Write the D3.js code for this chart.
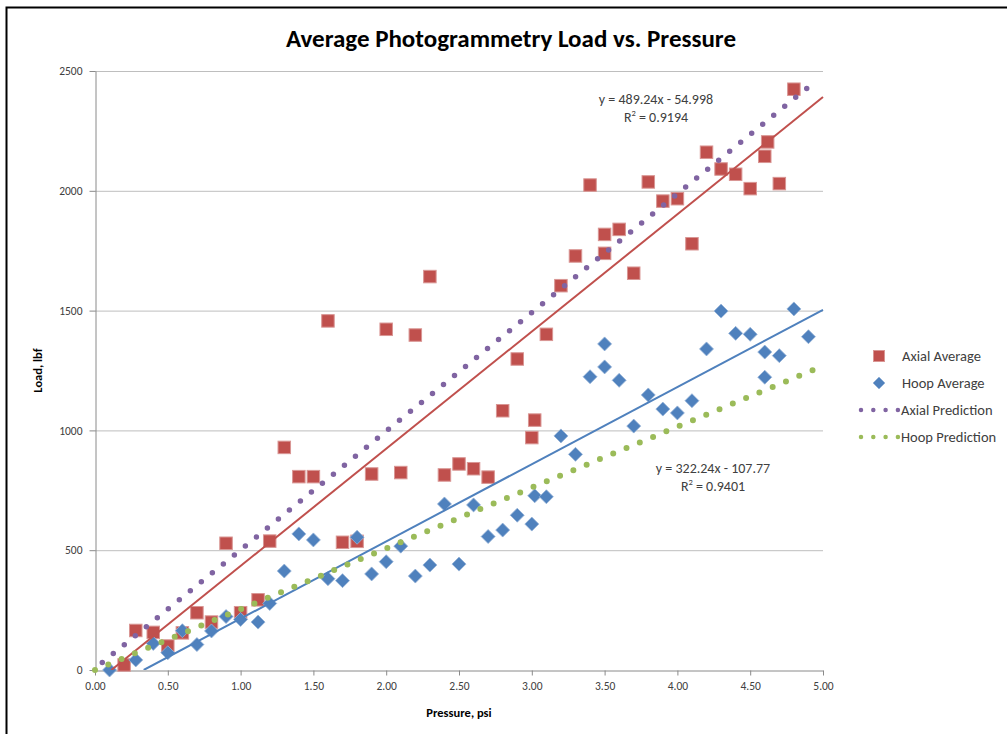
<!DOCTYPE html>
<html>
<head>
<meta charset="utf-8">
<script src="https://cdn.jsdelivr.net/npm/d3@7"></script>
<style>
  html, body { margin: 0; padding: 0; background: #fff; }
  text { font-family: Carlito, Lato, "Liberation Sans", sans-serif; }
</style>
</head>
<body>
<svg id="chart" width="1007" height="734"></svg>
<script>
// ---- Data ----
const title = "Average Photogrammetry Load vs. Pressure";
const xTitle = "Pressure, psi";
const yTitle = "Load, lbf";
const xTicks = [0, 0.5, 1, 1.5, 2, 2.5, 3, 3.5, 4, 4.5, 5];
const yTicks = [0, 500, 1000, 1500, 2000, 2500];

const axialX = [0.2, 0.28, 0.4, 0.5, 0.6, 0.7, 0.8, 0.9, 1.0, 1.12, 1.2, 1.3, 1.4, 1.5, 1.6, 1.7, 1.8, 1.9, 2.0, 2.1, 2.2, 2.3, 2.4, 2.5, 2.6, 2.7, 2.8, 2.9, 3.0, 3.02, 3.1, 3.2, 3.3, 3.4, 3.5, 3.5, 3.6, 3.7, 3.8, 3.9, 4.0, 4.1, 4.2, 4.3, 4.4, 4.5, 4.6, 4.62, 4.7, 4.8];
const axialY = [21, 165, 157, 100, 155, 239, 200, 529, 239, 293, 538, 929, 807, 807, 1457, 533, 537, 818, 1422, 824, 1398, 1642, 814, 860, 840, 805, 1082, 1298, 970, 1043, 1401, 1604, 1728, 2024, 1739, 1818, 1839, 1656, 2037, 1957, 1967, 1779, 2161, 2091, 2069, 2009, 2144, 2204, 2030, 2424];

const hoopX = [0.1, 0.28, 0.4, 0.5, 0.6, 0.7, 0.8, 0.9, 1.0, 1.12, 1.2, 1.3, 1.4, 1.5, 1.6, 1.7, 1.8, 1.9, 2.0, 2.1, 2.2, 2.3, 2.4, 2.5, 2.6, 2.7, 2.8, 2.9, 3.0, 3.02, 3.1, 3.2, 3.3, 3.4, 3.5, 3.5, 3.6, 3.7, 3.8, 3.9, 4.0, 4.1, 4.2, 4.3, 4.4, 4.5, 4.6, 4.6, 4.7, 4.8, 4.9];
const hoopY = [0, 42, 111, 72, 164, 106, 163, 223, 211, 200, 278, 413, 568, 543, 381, 373, 554, 401, 452, 517, 392, 438, 693, 442, 689, 557, 584, 646, 609, 727, 723, 977, 900, 1224, 1265, 1361, 1209, 1018, 1148, 1089, 1073, 1124, 1340, 1498, 1405, 1401, 1327, 1222, 1312, 1507, 1391];

const axialPredX = [0.05, 4.95];
const axialPredY = [31, 2458];
const hoopPredX = [0.0, 5.0];
const hoopPredY = [0, 1269];

const axialTrend = { slope: 489.24, intercept: -54.998, eq: "y = 489.24x - 54.998", r2: "0.9194" };
const hoopTrend = { slope: 322.24, intercept: -107.77, eq: "y = 322.24x - 107.77", r2: "0.9401" };

const legendLabels = ["Axial Average", "Hoop Average", "Axial Prediction", "Hoop Prediction"];

// ---- Styles ----
const C = { red: "#C0504D", blue: "#4F81BD", purple: "#8064A2", green: "#9BBB59", text: "#404040", grid: "#BEBEBE", axis: "#8A8A8A" };

const svg = d3.select("#chart");
svg.append("rect").attr("width", 1007).attr("height", 734).attr("fill", "#fff");
// outer chart border (cropped on the right and bottom)
svg.append("path").attr("d", "M6.5,740 V7.5 H1012").attr("fill", "none").attr("stroke", "#000").attr("stroke-width", 2);

const x = d3.scaleLinear().domain([0, 5]).range([95, 823]);
const y = d3.scaleLinear().domain([0, 2500]).range([670, 71]);

// gridlines
svg.append("g").selectAll("line").data(yTicks.filter(d => d > 0)).join("line")
  .attr("x1", x(0)).attr("x2", x(5)).attr("y1", d => y(d) + 0.5).attr("y2", d => y(d) + 0.5)
  .attr("stroke", C.grid).attr("stroke-width", 1);

// axes
const xAxis = d3.axisBottom(x).tickValues(xTicks).tickFormat(d3.format(".2f")).tickSizeInner(5).tickSizeOuter(0).tickPadding(6);
const gx = svg.append("g").attr("transform", `translate(0,${y(0) + 0.5})`).call(xAxis);
const yAxis = d3.axisLeft(y).tickValues(yTicks).tickFormat(d3.format("d")).tickSizeInner(6).tickSizeOuter(0).tickPadding(7);
const gy = svg.append("g").attr("transform", `translate(${x(0) + 0.5},0)`).call(yAxis);
[gx, gy].forEach(g => {
  g.select(".domain").attr("stroke", C.axis);
  g.selectAll(".tick line").attr("stroke", C.axis);
  g.selectAll(".tick text").attr("fill", C.text).attr("font-size", 11.5).style("font-family", "Carlito, Lato, sans-serif");
});

// clip for plot area
svg.append("clipPath").attr("id", "plotclip").append("rect")
  .attr("x", x(0)).attr("y", y(2500) - 10).attr("width", x(5) - x(0) + 6).attr("height", y(0) - y(2500) + 10);

const plot = svg.append("g");

// Axial Average squares
const sq = 12.5;
plot.append("g").selectAll("rect").data(axialX.map((d, i) => [d, axialY[i]])).join("rect")
  .attr("x", d => x(d[0]) - sq / 2).attr("y", d => y(d[1]) - sq / 2)
  .attr("width", sq).attr("height", sq)
  .attr("fill", C.red).attr("stroke", "#D99694").attr("stroke-width", 1);

// Hoop Average diamonds
const dm = 7;
const diamond = (cx, cy, r) => `M${cx},${cy - r}L${cx + r},${cy}L${cx},${cy + r}L${cx - r},${cy}Z`;
plot.append("g").selectAll("path").data(hoopX.map((d, i) => [d, hoopY[i]])).join("path")
  .attr("d", d => diamond(x(d[0]), y(d[1]), dm))
  .attr("fill", C.blue).attr("stroke", "#95B3D7").attr("stroke-width", 0.8);

// Trendlines
const trendG = plot.append("g").attr("clip-path", "url(#plotclip)");
[[axialTrend, C.red], [hoopTrend, C.blue]].forEach(([t, col]) => {
  const x0 = Math.max(0, -t.intercept / t.slope);
  const xs = [x0, 5];
  trendG.append("path")
    .attr("d", d3.line()(xs.map(v => [x(v), y(t.slope * v + t.intercept)])))
    .attr("stroke", col).attr("stroke-width", 2).attr("fill", "none");
});

// Prediction dotted lines
const line = d3.line().x(d => x(d[0])).y(d => y(d[1]));
plot.append("path").datum(axialPredX.map((d, i) => [d, axialPredY[i]]))
  .attr("d", line).attr("fill", "none").attr("stroke", C.purple)
  .attr("stroke-width", 5.5).attr("stroke-linecap", "round").attr("stroke-dasharray", "0,14.2");
plot.append("path").datum(hoopPredX.map((d, i) => [d, hoopPredY[i]]))
  .attr("d", line).attr("fill", "none").attr("stroke", C.green)
  .attr("stroke-width", 6).attr("stroke-linecap", "round").attr("stroke-dasharray", "0,14.4");

// Equations
const eqG = svg.append("g").attr("fill", C.text).attr("font-size", 14).attr("text-anchor", "middle");
function eqLabel(cx, cy, t) {
  eqG.append("text").attr("x", cx).attr("y", cy + 5).text(t.eq);
  const r = eqG.append("text").attr("x", cx).attr("y", cy + 23);
  r.append("tspan").text("R");
  r.append("tspan").attr("font-size", 8.5).attr("dy", -6).text("2");
  r.append("tspan").attr("dy", 6).text(" = " + t.r2);
}
eqLabel(656, 99, axialTrend);
eqLabel(713, 468, hoopTrend);

// Title & axis titles
svg.append("text").attr("x", 511).attr("y", 47).attr("text-anchor", "middle")
  .attr("font-size", 25).attr("font-weight", "bold").attr("fill", "#000").text(title);
svg.append("text").attr("x", (x(0) + x(5)) / 2).attr("y", 717).attr("text-anchor", "middle")
  .attr("font-size", 12.5).attr("font-weight", "bold").attr("fill", "#000").text(xTitle);
svg.append("text").attr("transform", `translate(42,${(y(0) + y(2500)) / 2}) rotate(-90)`).attr("text-anchor", "middle")
  .attr("font-size", 12.5).attr("font-weight", "bold").attr("fill", "#000").text(yTitle);

// Legend
const lg = svg.append("g");
const rows = [356, 383, 410, 437];
const lx = 879, tx = 902;
lg.append("rect").attr("x", lx - 5.5).attr("y", rows[0] - 5.5).attr("width", 11).attr("height", 11).attr("fill", C.red).attr("stroke", "#D99694");
lg.append("path").attr("d", diamond(lx, rows[1], 6)).attr("fill", C.blue).attr("stroke", "#95B3D7").attr("stroke-width", 0.8);
[[rows[2], C.purple], [rows[3], C.green]].forEach(([ry, col]) => {
  lg.append("path").attr("d", `M861,${ry}H898`).attr("stroke", col).attr("stroke-width", 4.5)
    .attr("stroke-linecap", "round").attr("stroke-dasharray", "0,12.3").attr("fill", "none");
});
lg.selectAll("text").data(legendLabels).join("text")
  .attr("x", (d, i) => i < 2 ? tx : tx - 1).attr("y", (d, i) => rows[i] + 5)
  .attr("font-size", 14.5).attr("fill", C.text).text(d => d);
</script>
</body>
</html>
